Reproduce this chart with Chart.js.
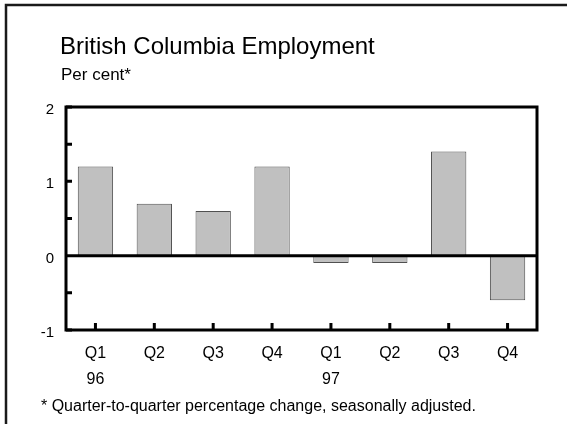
<!DOCTYPE html>
<html>
<head>
<meta charset="utf-8">
<script src="https://cdn.jsdelivr.net/npm/chart.js@4/dist/chart.umd.min.js"></script>
<style>
  html, body { margin: 0; padding: 0; background: #fff; }
  #wrap { position: relative; width: 567px; height: 424px; }
</style>
</head>
<body>
<div id="wrap"><canvas id="chart-bc" width="567" height="424"></canvas></div>
<script>
const QUARTERS = [["Q1", "96"], ["Q2"], ["Q3"], ["Q4"], ["Q1", "97"], ["Q2"], ["Q3"], ["Q4"]];
const CHANGE = [1.2, 0.7, 0.6, 1.2, -0.1, -0.1, 1.4, -0.6];
const Y_TICKS = [-1, 0, 1, 2];

const TITLE = "British Columbia Employment";
const UNITS = "Per cent*";
const NOTE = "* Quarter-to-quarter percentage change, seasonally adjusted.";
const FONT = "'Liberation Sans', Arial, sans-serif";

// frame, heading texts and footnote
const decor = {
  id: "decor",
  beforeDraw(chart) {
    const { ctx } = chart;
    ctx.save();
    ctx.fillStyle = "#fff";
    ctx.fillRect(0, 0, chart.width, chart.height);
    ctx.strokeStyle = "#1a1a1a";
    ctx.lineWidth = 2.5;
    ctx.beginPath();
    ctx.moveTo(6, chart.height);
    ctx.lineTo(6, 5);
    ctx.lineTo(chart.width, 5);
    ctx.stroke();
    ctx.fillStyle = "#000";
    ctx.textBaseline = "alphabetic";
    ctx.font = "24px " + FONT;
    ctx.fillText(TITLE, 60, 54);
    ctx.font = "17px " + FONT;
    ctx.fillText(UNITS, 61, 80);
    ctx.font = "16px " + FONT;
    ctx.fillText(NOTE, 41, 411);
    ctx.restore();
  },
};

// short ticks pointing into the plot, zero line and box
const innerTicks = {
  id: "innerTicks",
  afterDatasetsDraw(chart) {
    const { ctx, chartArea: a, scales: { x, y } } = chart;
    ctx.save();
    ctx.strokeStyle = "#000";
    ctx.lineWidth = 3;
    ctx.beginPath();
    for (let v = -1; v <= 2; v += 0.5) {
      const py = y.getPixelForValue(v);
      ctx.moveTo(a.left, py);
      ctx.lineTo(a.left + 6, py);
    }
    QUARTERS.forEach((_, i) => {
      const px = x.getPixelForValue(i);
      ctx.moveTo(px, a.bottom);
      ctx.lineTo(px, a.bottom - 7);
    });
    const z = y.getPixelForValue(0);
    ctx.moveTo(a.left, z);
    ctx.lineTo(a.right, z);
    ctx.stroke();
    ctx.strokeRect(a.left, a.top, a.right - a.left, a.bottom - a.top);
    ctx.restore();
  },
};

new Chart(document.getElementById("chart-bc"), {
  type: "bar",
  data: {
    labels: QUARTERS,
    datasets: [{
      data: CHANGE,
      backgroundColor: "#c0c0c0",
      borderColor: "#505050",
      borderWidth: 1,
      borderSkipped: false,
      categoryPercentage: 1,
      barPercentage: 0.6,
    }],
  },
  options: {
    responsive: false,
    animation: false,
    devicePixelRatio: 1,
    layout: { padding: { top: 107, right: 30, left: 0, bottom: 0 } },
    plugins: { legend: { display: false }, tooltip: { enabled: false } },
    scales: {
      x: {
        afterFit: (s) => { s.height = 94; },
        grid: { display: false, drawTicks: false },
        border: { display: false },
        ticks: { color: "#000", padding: 11, maxRotation: 0, font: { family: FONT, size: 16, lineHeight: 1.6 } },
      },
      y: {
        min: -1,
        max: 2,
        afterBuildTicks: (s) => { s.ticks = Y_TICKS.map(v => ({ value: v })); },
        afterFit: (s) => { s.width = 66; },
        grid: { display: false, drawTicks: false },
        border: { display: false },
        ticks: { color: "#000", padding: 12, labelOffset: 3, font: { family: FONT, size: 15 } },
      },
    },
  },
  plugins: [decor, innerTicks],
});
</script>
</body>
</html>
